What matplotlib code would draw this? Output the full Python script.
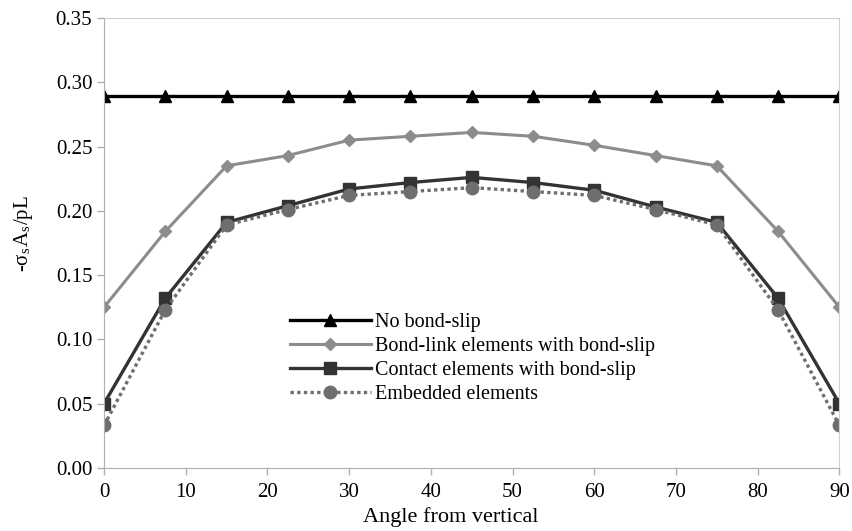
import matplotlib

matplotlib.use("Agg")
import matplotlib.pyplot as plt

# Werte
winkel = [0, 7.5, 15, 22.5, 30, 37.5, 45, 52.5, 60, 67.5, 75, 82.5, 90]
kein_schlupf = [0.289] * 13
bond_link = [0.125, 0.184, 0.235, 0.243, 0.255, 0.258, 0.261,
             0.258, 0.251, 0.243, 0.235, 0.184, 0.125]
kontakt = [0.050, 0.132, 0.191, 0.204, 0.217, 0.222, 0.226,
           0.222, 0.216, 0.203, 0.191, 0.132, 0.050]
eingebettet = [0.033, 0.123, 0.189, 0.201, 0.212, 0.215, 0.218,
               0.215, 0.212, 0.201, 0.189, 0.123, 0.033]

x_ticks = [0, 10, 20, 30, 40, 50, 60, 70, 80, 90]
y_ticks = [0.00, 0.05, 0.10, 0.15, 0.20, 0.25, 0.30, 0.35]

plt.rcParams["font.family"] = ["Liberation Serif", "DejaVu Serif"]
plt.rcParams["mathtext.fontset"] = "stix"

fig = plt.figure(figsize=(8.53, 5.31), dpi=100)
ax = fig.add_axes([0.122, 0.119, 0.862, 0.847])

ax.plot(winkel, kein_schlupf, color="black", lw=2.4, marker="^", ms=9,
        label="No bond-slip")
ax.plot(winkel, bond_link, color="#8c8c8c", lw=2.2, marker="D", ms=6,
        label="Bond-link elements with bond-slip")
ax.plot(winkel, kontakt, color="#333333", lw=2.4, marker="s", ms=8.5,
        label="Contact elements with bond-slip")
ax.plot(winkel, eingebettet, color="#6e6e6e", lw=2.4, ls=(0, (1, 1)),
        marker="o", ms=9, label="Embedded elements")

ax.set_xlim(0, 90)
ax.set_ylim(0, 0.35)
ax.set_xticks(x_ticks)
ax.set_yticks(y_ticks)
ax.set_yticklabels([f"{v:.2f}" for v in y_ticks])
ax.tick_params(labelsize=15, color="#b0b0b0", length=5, width=1)
ax.tick_params(axis="x", pad=6)

for seite in ["left", "bottom"]:
    ax.spines[seite].set_color("#b0b0b0")
for seite in ["top", "right"]:
    ax.spines[seite].set_color("#d0d0d0")

ax.set_xlabel("Angle from vertical", fontsize=16)
ax.xaxis.set_label_coords(0.472, -0.088)
ax.set_ylabel(r"-σ$_\mathregular{s}$A$_\mathregular{s}$/pL", fontsize=15)
ax.yaxis.set_label_coords(-0.094, 0.52)

ax.legend(loc="center left", bbox_to_anchor=(0.253, 0.243), frameon=False,
          fontsize=14.5, handlelength=4.0, handletextpad=0.2, labelspacing=0.25,
          borderpad=0, borderaxespad=0)

fig.savefig("out.png", dpi=100)
